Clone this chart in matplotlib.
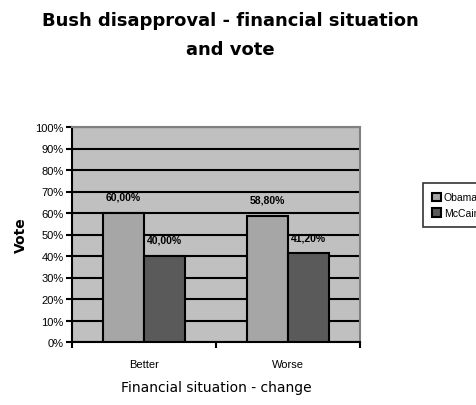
import numpy as np
import matplotlib
matplotlib.use("Agg")
import matplotlib.pyplot as plt
from matplotlib.ticker import FuncFormatter

plt.rcParams['font.family'] = ['Liberation Sans', 'DejaVu Sans']

categories = ["Better", "Worse"]
series = ["Obama", "McCain"]
obama = [60.0, 58.8]
mccain = [40.0, 41.2]
colors = ["#a6a6a6", "#5a5a5a"]

fig = plt.figure(figsize=(4.77, 4.06), dpi=100)
ax = fig.add_axes([72/477, 1-343/406, 288/477, 215/406])
ax.set_facecolor("#c0c0c0")

x = np.arange(len(categories))
w = 1/3.5
for i, (vals, name) in enumerate(zip([obama, mccain], series)):
    pos = x + (i - 0.5) * w
    ax.bar(pos, vals, width=w, color=colors[i], edgecolor="black",
           linewidth=1.5, label=name, zorder=3)
    for xp, v in zip(pos, vals):
        ax.annotate(("%.2f%%" % v).replace(".", ","), (xp, v), xytext=(0, 8),
                    textcoords="offset points", ha="center", va="bottom",
                    fontsize=7.5, fontweight="bold", zorder=4)

ax.set_xlim(-0.5, 1.5)
ax.set_ylim(0, 100)
ax.set_yticks(np.arange(0, 101, 10))
ax.yaxis.set_major_formatter(FuncFormatter(lambda v, p: "%d%%" % v))
ax.grid(axis="y", color="black", linewidth=1.5, zorder=1)
ax.set_axisbelow(True)

ax.set_xticks([-0.5, 0.5, 1.5])
ax.set_xticklabels([])
ax.set_xticks(x, minor=True)
ax.set_xticklabels(categories, minor=True, fontsize=8)
ax.tick_params(axis="x", which="minor", length=0, pad=12)
ax.tick_params(axis="x", which="major", length=4, width=1.5, direction="out")
ax.tick_params(axis="y", length=4, width=1.5, labelsize=8, pad=2)

for s in ["left", "bottom"]:
    ax.spines[s].set_color("black")
    ax.spines[s].set_linewidth(1.5)
for s in ["top", "right"]:
    ax.spines[s].set_color("#808080")
    ax.spines[s].set_linewidth(1.5)

ax.set_ylabel("Vote", fontsize=10, fontweight="bold", labelpad=5,
              family="DejaVu Sans")
ax.set_xlabel("Financial situation - change", fontsize=10, labelpad=8,
              family="DejaVu Sans")

fig.text(0.482, 0.948, "Bush disapproval - financial situation", ha="center",
         va="center", fontsize=13, fontweight="bold", family="DejaVu Sans")
fig.text(0.482, 0.877, "and vote", ha="center", va="center", fontsize=13,
         fontweight="bold", family="DejaVu Sans")

leg = fig.legend(loc="upper left", bbox_to_anchor=(423/477, 1-184/406),
                 fontsize=7.5, frameon=True, fancybox=False, edgecolor="black",
                 handlelength=0.85, handleheight=0.85, handletextpad=0.25,
                 borderpad=0.9, labelspacing=0.55, borderaxespad=0)
leg.get_frame().set_linewidth(1.2)

fig.savefig("out.png", dpi=100)
